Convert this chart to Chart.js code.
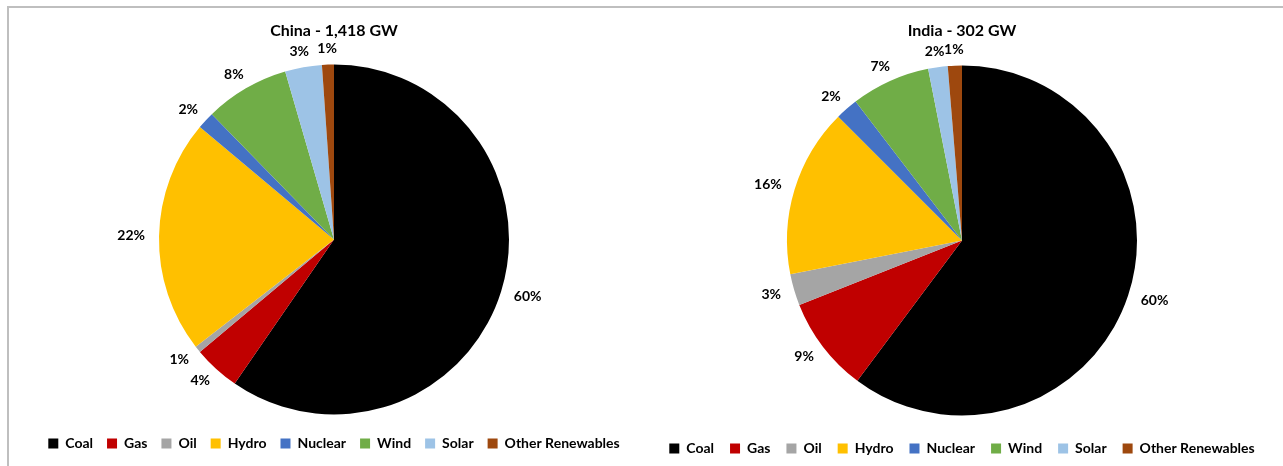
<!DOCTYPE html>
<html>
<head>
<meta charset="utf-8">
<script src="https://cdn.jsdelivr.net/npm/chart.js@4.4.1/dist/chart.umd.min.js"></script>
<style>
  html, body { margin: 0; padding: 0; background: #fff; overflow: hidden; width: 1283px; height: 466px; }
  #frame { position: absolute; left: 7px; top: 6px; width: 1290px; height: 480px; border-top: 2px solid #BFBFBF; border-left: 2px solid #BFBFBF; box-sizing: border-box; }
  canvas { position: absolute; top: 0; }
  #china { left: 20px; }
  #india { left: 648px; }
</style>
</head>
<body>
<div id="frame"></div>
<canvas id="china" width="628" height="480"></canvas>
<canvas id="india" width="628" height="480"></canvas>
<script>
const categories = ['Coal', 'Gas', 'Oil', 'Hydro', 'Nuclear', 'Wind', 'Solar', 'Other Renewables'];
const chinaValues = [59.6, 4.3, 0.6, 21.6, 1.6, 7.8, 3.4, 1.1];
const indiaValues = [60.2, 8.8, 2.9, 15.6, 2.1, 7.3, 1.8, 1.3];
const sliceColors = ['#000000', '#C00000', '#A5A5A5', '#FFC000', '#4472C4', '#70AD47', '#9DC3E6', '#9E480E'];
const chinaTitle = 'China - 1,418 GW';
const indiaTitle = 'India - 302 GW';

const FONT = 'Lato, "Noto Sans", sans-serif';

const outsideLabels = {
  id: 'outsideLabels',
  afterDatasetsDraw(chart) {
    const ctx = chart.ctx;
    const meta = chart.getDatasetMeta(0);
    const data = chart.data.datasets[0].data;
    const total = data.reduce((a, b) => a + b, 0);
    ctx.save();
    ctx.font = 'bold 14px ' + FONT;
    ctx.fillStyle = '#000';
    ctx.textAlign = 'center';
    ctx.textBaseline = 'middle';
    const gap = 14, h = 4;
    meta.data.forEach((arc, i) => {
      const p = arc.getProps(['x', 'y', 'startAngle', 'endAngle', 'outerRadius'], true);
      const mid = (p.startAngle + p.endAngle) / 2;
      const c = Math.cos(mid), s = Math.sin(mid);
      const txt = Math.round(data[i] / total * 100) + '%';
      const w = ctx.measureText(txt).width;
      const x = p.x + c * (p.outerRadius + gap) + c * w / 2;
      const y = p.y + s * (p.outerRadius + gap) + s * h / 2;
      ctx.fillText(txt, x, y);
    });
    ctx.restore();
  }
};

function makePie(id, title, values, legendPad, titlePadBottom, layoutPadBottom) {
  new Chart(document.getElementById(id), {
    type: 'pie',
    data: {
      labels: categories,
      datasets: [{
        data: values,
        backgroundColor: sliceColors,
        borderWidth: 0,
        radius: 175
      }]
    },
    options: {
      responsive: false,
      animation: false,
      events: [],
      layout: { padding: { top: 0, bottom: layoutPadBottom, left: 0, right: 0 } },
      plugins: {
        title: {
          display: true,
          text: title,
          color: '#000',
          font: { family: FONT, size: 16, weight: 'bold', lineHeight: 1.2 },
          padding: { top: 21.4, bottom: titlePadBottom }
        },
        legend: {
          display: true,
          position: 'bottom',
          labels: {
            boxWidth: 10,
            boxHeight: 10,
            padding: legendPad,
            color: '#000',
            font: { family: FONT, size: 14, weight: 'bold' }
          }
        },
        tooltip: { enabled: false }
      }
    },
    plugins: [outsideLabels]
  });
}

makePie('china', chinaTitle, chinaValues, 14, 15.9, 19.5);
makePie('india', indiaTitle, indiaValues, 16, 14.9, 14.5);
</script>
</body>
</html>
